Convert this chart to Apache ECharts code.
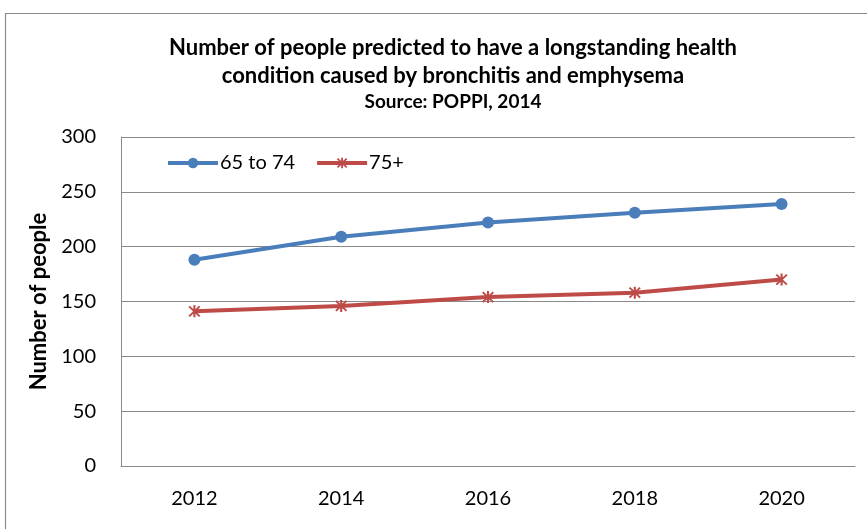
<!DOCTYPE html>
<html>
<head>
<meta charset="utf-8">
<script src="https://cdn.jsdelivr.net/npm/echarts@6/dist/echarts.min.js"></script>
<style>
  html, body { margin: 0; padding: 0; background: #fff; }
  #chart { width: 867px; height: 529px; }
</style>
</head>
<body>
<div id="chart"></div>
<script>
// Projected counts of people with a longstanding condition from bronchitis/emphysema
const years = ['2012', '2014', '2016', '2018', '2020'];
const age65to74 = [188, 209, 222, 231, 239];
const age75plus = [141, 146, 154, 158, 170];
const yTicks = [0, 50, 100, 150, 200, 250, 300];

const FONT = 'Lato, "Open Sans", "Noto Sans", sans-serif';
const BLUE = '#4A7EBB';
const RED = '#BE4B48';

// Six-armed star marker (an X crossed by a vertical bar)
const starMarker = 'path://M-1,-6L1,-6L1,6L-1,6Z' +
  'M-4.36,-5.64L5.64,4.36L4.36,5.64L-5.64,-4.36Z' +
  'M4.36,-5.64L5.64,-4.36L-4.36,5.64L-5.64,4.36Z';

const chart = echarts.init(document.getElementById('chart'), null, { renderer: 'canvas' });

chart.setOption({
  backgroundColor: '#ffffff',
  animation: false,
  graphic: [{
    type: 'rect',
    shape: { x: 5.5, y: 13.5, width: 900, height: 600 },
    style: { fill: 'none', stroke: '#8a8a8a', lineWidth: 1.2 },
    z: -1
  }],
  title: {
    text: 'Number of people predicted to have a longstanding health\ncondition caused by bronchitis and emphysema',
    subtext: 'Source: POPPI, 2014',
    left: 448,
    textAlign: 'center',
    top: 29,
    itemGap: 2,
    textStyle: {
      fontFamily: FONT, fontSize: 22, fontWeight: 'bold', color: '#000', lineHeight: 28
    },
    subtextStyle: {
      fontFamily: FONT, fontSize: 19, fontWeight: 'bold', color: '#000'
    }
  },
  legend: {
    left: 161,
    top: 148,
    itemWidth: 50,
    itemHeight: 13,
    itemGap: 20,
    lineStyle: { width: 4 },
    textStyle: { fontFamily: FONT, fontSize: 20, color: '#000', padding: [0, 0, 0, -3] },
    data: ['65 to 74', '75+']
  },
  grid: { left: 121, right: 12, top: 137, bottom: 63 },
  xAxis: {
    type: 'category',
    data: years,
    boundaryGap: true,
    axisLine: { lineStyle: { color: '#8a8a8a', width: 1 } },
    axisTick: { show: false },
    axisLabel: { fontFamily: FONT, fontSize: 20, color: '#000', margin: 23 }
  },
  yAxis: {
    type: 'value',
    min: yTicks[0],
    max: yTicks[yTicks.length - 1],
    interval: 50,
    name: 'Number of people',
    nameLocation: 'middle',
    nameGap: 71,
    nameTextStyle: { fontFamily: FONT, fontSize: 22, fontWeight: 'bold', color: '#000' },
    axisLine: { show: true, lineStyle: { color: '#8a8a8a', width: 1 } },
    axisTick: { show: false },
    splitLine: { lineStyle: { color: '#8a8a8a', width: 1 } },
    axisLabel: { fontFamily: FONT, fontSize: 20, color: '#000', margin: 25 }
  },
  series: [
    {
      name: '65 to 74',
      type: 'line',
      data: age65to74,
      symbol: 'circle',
      symbolSize: 12,
      lineStyle: { color: BLUE, width: 4 },
      itemStyle: { color: BLUE }
    },
    {
      name: '75+',
      type: 'line',
      data: age75plus,
      symbol: starMarker,
      symbolSize: 12,
      lineStyle: { color: RED, width: 4 },
      itemStyle: { color: RED }
    }
  ]
});
</script>
</body>
</html>
